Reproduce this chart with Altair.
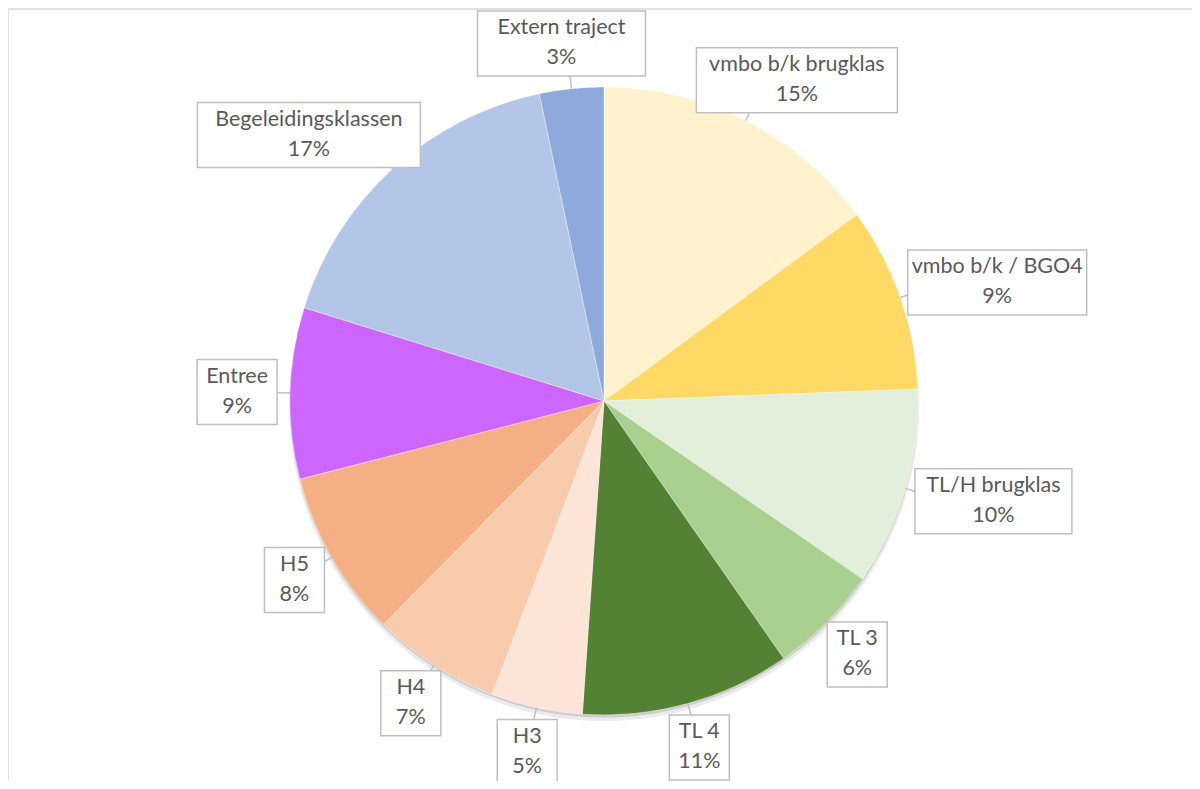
import altair as alt
import pandas as pd

# ---- data ----
labels = ["vmbo b/k brugklas", "vmbo b/k / BGO4", "TL/H brugklas", "TL 3", "TL 4",
          "H3", "H4", "H5", "Entree", "Begeleidingsklassen", "Extern traject"]
values = [14.9, 9.5, 10.2, 5.7, 10.8, 4.7, 6.6, 8.6, 8.8, 16.9, 3.3]
pct_labels = ["15%", "9%", "10%", "6%", "11%", "5%", "7%", "8%", "9%", "17%", "3%"]
colors = ["#FFF2CC", "#FFD966", "#E2EFDA", "#A9D08E", "#548235",
          "#FCE4D6", "#F8CBAD", "#F4B084", "#CC66FF", "#B4C6E7", "#8EA9DB"]

df = pd.DataFrame({"label": labels, "value": values, "pct": pct_labels,
                   "idx": list(range(len(labels)))})

# ---- layout ----
W, H = 1184, 773
CX, CY, R, G = 596, 393, 314, 13
BOX_H = 65
FONT = "Lato"
FS = 21.5
TXT = "#595959"

base = (
    alt.Chart(df)
    .transform_window(cum="sum(value)", sort=[alt.SortField("idx")], frame=[None, 0])
    .transform_joinaggregate(total="sum(value)")
    .transform_calculate(
        mid="(datum.cum - datum.value / 2) / datum.total * 2 * PI",
        ux="sin(datum.mid)",
        uy="-cos(datum.mid)",
        w="max(max(length(datum.label), length(datum.pct)) * 11 + 14, 60)",
    )
    .transform_calculate(
        px=f"{CX} + {R} * datum.ux",
        py=f"{CY} + {R} * datum.uy",
        ax=f"{CX} + {R + G} * datum.ux",
        ay=f"{CY} + {R + G} * datum.uy",
    )
    .transform_calculate(
        bcx="datum.ax + datum.ux * datum.w / 2",
        bcy=f"datum.ay + datum.uy * {BOX_H} / 2",
    )
    .transform_calculate(
        bx1="datum.bcx - datum.w / 2",
        bx2="datum.bcx + datum.w / 2",
        by1=f"datum.bcy - {BOX_H} / 2",
        by2=f"datum.bcy + {BOX_H} / 2",
        ty1="datum.bcy - 15",
        ty2="datum.bcy + 15",
    )
)

frame = (
    alt.Chart(df)
    .transform_filter("datum.idx == 0")
    .mark_rect(filled=False, stroke="#D9D9D9", strokeWidth=1.5)
    .encode(x=alt.value(0), x2=alt.value(1400), y=alt.value(1), y2=alt.value(1200))
)

shadow1 = (
    alt.Chart(df)
    .transform_filter("datum.idx == 0")
    .mark_arc(radius=R + 1, theta=0, theta2=6.2832, color="#000000", opacity=0.08)
    .encode(x=alt.value(CX), y=alt.value(CY + 5))
)
shadow2 = (
    alt.Chart(df)
    .transform_filter("datum.idx == 0")
    .mark_arc(radius=R, theta=0, theta2=6.2832, color="#000000", opacity=0.12)
    .encode(x=alt.value(CX), y=alt.value(CY + 2.5))
)

pie = (
    alt.Chart(df)
    .mark_arc(radius=R, stroke="#FFFFFF", strokeWidth=0.4)
    .encode(
        theta=alt.Theta("value:Q", stack=True),
        color=alt.Color("label:N", scale=alt.Scale(domain=labels, range=colors), legend=None),
        order=alt.Order("idx:Q"),
        x=alt.value(CX),
        y=alt.value(CY),
    )
)

leaders = base.mark_rule(color="#BFBFBF", strokeWidth=1.5).encode(
    x=alt.X("px:Q", scale=None, axis=None),
    y=alt.Y("py:Q", scale=None, axis=None),
    x2="ax:Q",
    y2="ay:Q",
)

boxes = base.mark_rect(fill="#FFFFFF", stroke="#BFBFBF", strokeWidth=1.5).encode(
    x=alt.X("bx1:Q", scale=None, axis=None),
    x2="bx2:Q",
    y=alt.Y("by1:Q", scale=None, axis=None),
    y2="by2:Q",
)

text1 = base.mark_text(font=FONT, fontSize=FS, color=TXT, baseline="middle").encode(
    x=alt.X("bcx:Q", scale=None, axis=None),
    y=alt.Y("ty1:Q", scale=None, axis=None),
    text="label:N",
)
text2 = base.mark_text(font=FONT, fontSize=FS, color=TXT, baseline="middle").encode(
    x=alt.X("bcx:Q", scale=None, axis=None),
    y=alt.Y("ty2:Q", scale=None, axis=None),
    text="pct:N",
)

chart = (
    alt.layer(frame, shadow1, shadow2, pie, leaders, boxes, text1, text2)
    .properties(width=W, height=H, autosize=alt.AutoSizeParams(type="none"), padding=0)
    .configure_view(stroke=None)
)

chart.save("out.html", embed_options={"renderer": "svg", "actions": False})
